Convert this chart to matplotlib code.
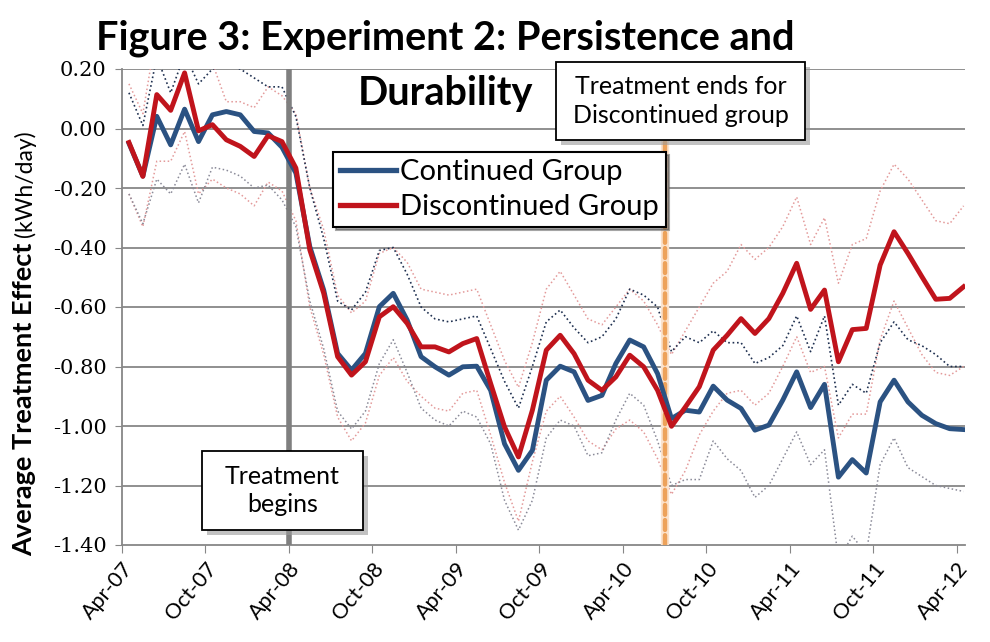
import numpy as np
import matplotlib
matplotlib.use("Agg")
import matplotlib.pyplot as plt
from matplotlib.patches import Rectangle

plt.rcParams['axes.unicode_minus'] = False

# monthly treatment effects, Apr-07 .. Apr-12 (kWh/day)
continued = [-0.05, -0.16, 0.041, -0.055, 0.065, -0.044, 0.046, 0.057, 0.046, -0.01,
             -0.015, -0.063, -0.15, -0.397, -0.543, -0.756, -0.812, -0.756, -0.599, -0.554,
             -0.644, -0.767, -0.801, -0.829, -0.801, -0.799, -0.88, -1.06, -1.149, -1.082,
             -0.846, -0.799, -0.818, -0.914, -0.897, -0.79, -0.711, -0.734, -0.824, -0.975,
             -0.947, -0.953, -0.866, -0.913, -0.941, -1.014, -0.997, -0.913, -0.818, -0.938,
             -0.86, -1.172, -1.113, -1.158, -0.919, -0.846, -0.919, -0.964, -0.992, -1.009,
             -1.012]
discontinued = [-0.047, -0.161, 0.114, 0.061, 0.187, -0.008, 0.013, -0.038, -0.06, -0.094,
                -0.024, -0.044, -0.133, -0.408, -0.554, -0.767, -0.829, -0.784, -0.633, -0.599,
                -0.655, -0.734, -0.734, -0.751, -0.723, -0.706, -0.857, -1.003, -1.104, -0.947,
                -0.745, -0.695, -0.757, -0.846, -0.88, -0.835, -0.762, -0.801, -0.88, -1.001,
                -0.936, -0.868, -0.745, -0.695, -0.639, -0.689, -0.639, -0.554, -0.453, -0.608,
                -0.543, -0.784, -0.676, -0.672, -0.459, -0.347, -0.42, -0.498, -0.574, -0.571,
                -0.532]
# 95% confidence bounds
cont_upper = [0.12, 0.01, 0.24, 0.12, 0.25, 0.15, 0.20, 0.21, 0.20, 0.17,
              0.14, 0.14, 0.04, -0.20, -0.37, -0.58, -0.61, -0.55, -0.41, -0.40,
              -0.49, -0.60, -0.64, -0.65, -0.64, -0.63, -0.74, -0.85, -0.94, -0.80,
              -0.65, -0.61, -0.67, -0.72, -0.70, -0.64, -0.54, -0.56, -0.60, -0.75,
              -0.70, -0.72, -0.68, -0.72, -0.72, -0.79, -0.77, -0.73, -0.63, -0.75,
              -0.63, -0.93, -0.86, -0.89, -0.72, -0.65, -0.71, -0.73, -0.76, -0.80,
              -0.80]
cont_lower = [-0.22, -0.32, -0.17, -0.22, -0.12, -0.25, -0.13, -0.14, -0.16, -0.20,
              -0.19, -0.24, -0.33, -0.58, -0.74, -0.95, -1.01, -0.95, -0.79, -0.71,
              -0.82, -0.94, -0.98, -1.00, -0.95, -0.97, -1.06, -1.25, -1.35, -1.25,
              -1.04, -0.98, -1.00, -1.10, -1.09, -0.98, -0.89, -0.93, -1.05, -1.20,
              -1.18, -1.18, -1.05, -1.11, -1.15, -1.24, -1.20, -1.11, -1.02, -1.13,
              -1.08, -1.45, -1.37, -1.43, -1.13, -1.04, -1.14, -1.17, -1.20, -1.21,
              -1.22]
disc_upper = [0.15, 0.05, 0.33, 0.27, 0.40, 0.21, 0.22, 0.09, 0.09, 0.07,
              0.14, 0.11, 0.05, -0.20, -0.34, -0.56, -0.62, -0.58, -0.42, -0.40,
              -0.45, -0.54, -0.55, -0.56, -0.55, -0.54, -0.66, -0.78, -0.87, -0.72,
              -0.54, -0.48, -0.56, -0.64, -0.66, -0.60, -0.54, -0.58, -0.66, -0.76,
              -0.68, -0.60, -0.52, -0.48, -0.39, -0.44, -0.40, -0.33, -0.23, -0.39,
              -0.30, -0.52, -0.39, -0.37, -0.21, -0.12, -0.17, -0.24, -0.31, -0.32,
              -0.26]
disc_lower = [-0.22, -0.33, -0.11, -0.11, -0.01, -0.22, -0.17, -0.20, -0.22, -0.26,
              -0.18, -0.21, -0.31, -0.60, -0.76, -0.97, -1.05, -0.99, -0.83, -0.77,
              -0.85, -0.90, -0.94, -0.95, -0.89, -0.88, -1.03, -1.19, -1.32, -1.12,
              -0.95, -0.90, -0.97, -1.05, -1.08, -1.01, -0.98, -1.02, -1.11, -1.23,
              -1.15, -1.03, -0.95, -0.89, -0.88, -0.93, -0.89, -0.80, -0.70, -0.82,
              -0.80, -1.04, -0.96, -0.96, -0.71, -0.58, -0.67, -0.76, -0.82, -0.83,
              -0.80]

tick_labels = ['Apr-07', 'Oct-07', 'Apr-08', 'Oct-08', 'Apr-09', 'Oct-09',
               'Apr-10', 'Oct-10', 'Apr-11', 'Oct-11', 'Apr-12']
y_ticks = [-1.4, -1.2, -1.0, -0.8, -0.6, -0.4, -0.2, 0.0, 0.2]
y_tick_labels = ['-1.40', '-1.20', '-1.00', '-0.80', '-0.60', '-0.40', '-0.20', '0.00', '0.20']
treatment_start = 12   # Apr-08
treatment_end = 39     # Jul-10

W, H = 990, 642
fig = plt.figure(figsize=(W / 100, H / 100), dpi=100)
ax = fig.add_axes([122 / W, 1 - 545 / H, (965 - 122) / W, (545 - 69) / H])

x = np.arange(len(continued)) + 0.5

for v in y_ticks[1:]:
    ax.axhline(v, color='#878787', lw=1.3, zorder=1)

ax.plot(x, disc_upper, color='#e39a9a', lw=1.1, ls=':', zorder=2)
ax.plot(x, disc_lower, color='#e39a9a', lw=1.1, ls=':', zorder=2)
ax.plot(x, cont_upper, color='#1f3050', lw=1.2, ls=':', zorder=2)
ax.plot(x, cont_lower, color='#8a8a98', lw=1.1, ls=':', zorder=2)

ax.axvline(treatment_start, color='#7f7f7f', lw=4, zorder=3)
ax.axvline(treatment_end, color='#fbe2cc', lw=6, zorder=3)
ax.axvline(treatment_end, color='#eda25a', lw=3.2, ls=(0, (2.2, 1.2)),
           dash_capstyle='round', zorder=3)

ax.plot(x, continued, color='#2b5282', lw=3.5, label='Continued Group', zorder=4)
ax.plot(x, discontinued, color='#c0141c', lw=3.5, label='Discontinued Group', zorder=5)

ax.set_xlim(0, 60.6)
ax.set_ylim(-1.4, 0.2)
ax.set_xticks(np.arange(0, 61, 6))
ax.set_xticklabels(tick_labels, rotation=50, ha='right', va='top',
                   rotation_mode='anchor', fontsize=15.5, family=['Lato', 'DejaVu Sans'])
ax.set_yticks(y_ticks)
ax.set_yticklabels(y_tick_labels, fontsize=15, family='DejaVu Serif')
ax.tick_params(axis='x', length=6, color='#878787', pad=4)
ax.tick_params(axis='y', length=5, color='#878787', pad=6)
for s in ['top', 'right']:
    ax.spines[s].set_visible(False)
for s in ['left', 'bottom']:
    ax.spines[s].set_color('#878787')
    ax.spines[s].set_linewidth(1.3)

leg = ax.legend(loc='upper left', bbox_to_anchor=(333 / W, 1 - 152 / H),
                bbox_transform=fig.transFigure, frameon=True, fancybox=False,
                shadow=True, edgecolor='black', framealpha=1,
                prop={'family': 'Lato', 'size': 21}, handlelength=1.9,
                handletextpad=0.15, borderpad=0.25, labelspacing=0.3,
                borderaxespad=0)
leg.get_frame().set_linewidth(1.5)
for line in leg.get_lines():
    line.set_linewidth(3.8)


def px(xp, yp):
    return xp / W, 1 - yp / H


def note_box(x0, y0, x1, y1, text, size):
    fig.patches.append(Rectangle(px(x0 + 5, y1 + 5), (x1 - x0) / W, (y1 - y0) / H,
                                 transform=fig.transFigure, facecolor='#9a9a9a',
                                 edgecolor='none', alpha=0.6, zorder=8))
    fig.patches.append(Rectangle(px(x0, y1), (x1 - x0) / W, (y1 - y0) / H,
                                 transform=fig.transFigure, facecolor='white',
                                 edgecolor='black', lw=1.3, zorder=9))
    fig.text(*px((x0 + x1) / 2, (y0 + y1) / 2), text, ha='center', va='center',
             fontsize=size, family='Lato', linespacing=1.3, zorder=10)


note_box(202, 451, 363, 530, 'Treatment\nbegins', 18)
note_box(556, 62, 805, 140, 'Treatment ends for\nDiscontinued group', 18)

fig.text(*px(445, 38), 'Figure 3: Experiment 2: Persistence and', ha='center',
         va='center', fontsize=28.5, fontweight='bold', family='Lato')
fig.text(*px(445, 93), 'Durability', ha='center', va='center', fontsize=28.5,
         fontweight='bold', family='Lato')

# y label: bold part, then the units in regular weight right after it
lab1 = fig.text(*px(24, 556), 'Average Treatment Effect', rotation=90, ha='center',
                va='bottom', fontsize=19.5, fontweight='bold', family='Lato')
fig.canvas.draw()
top = lab1.get_window_extent().y1
fig.text(25 / W, (top + 6) / H, '(kWh/day)', rotation=90, ha='center', va='bottom',
         fontsize=16.5, family='Lato')

fig.savefig('out.png', dpi=100)
